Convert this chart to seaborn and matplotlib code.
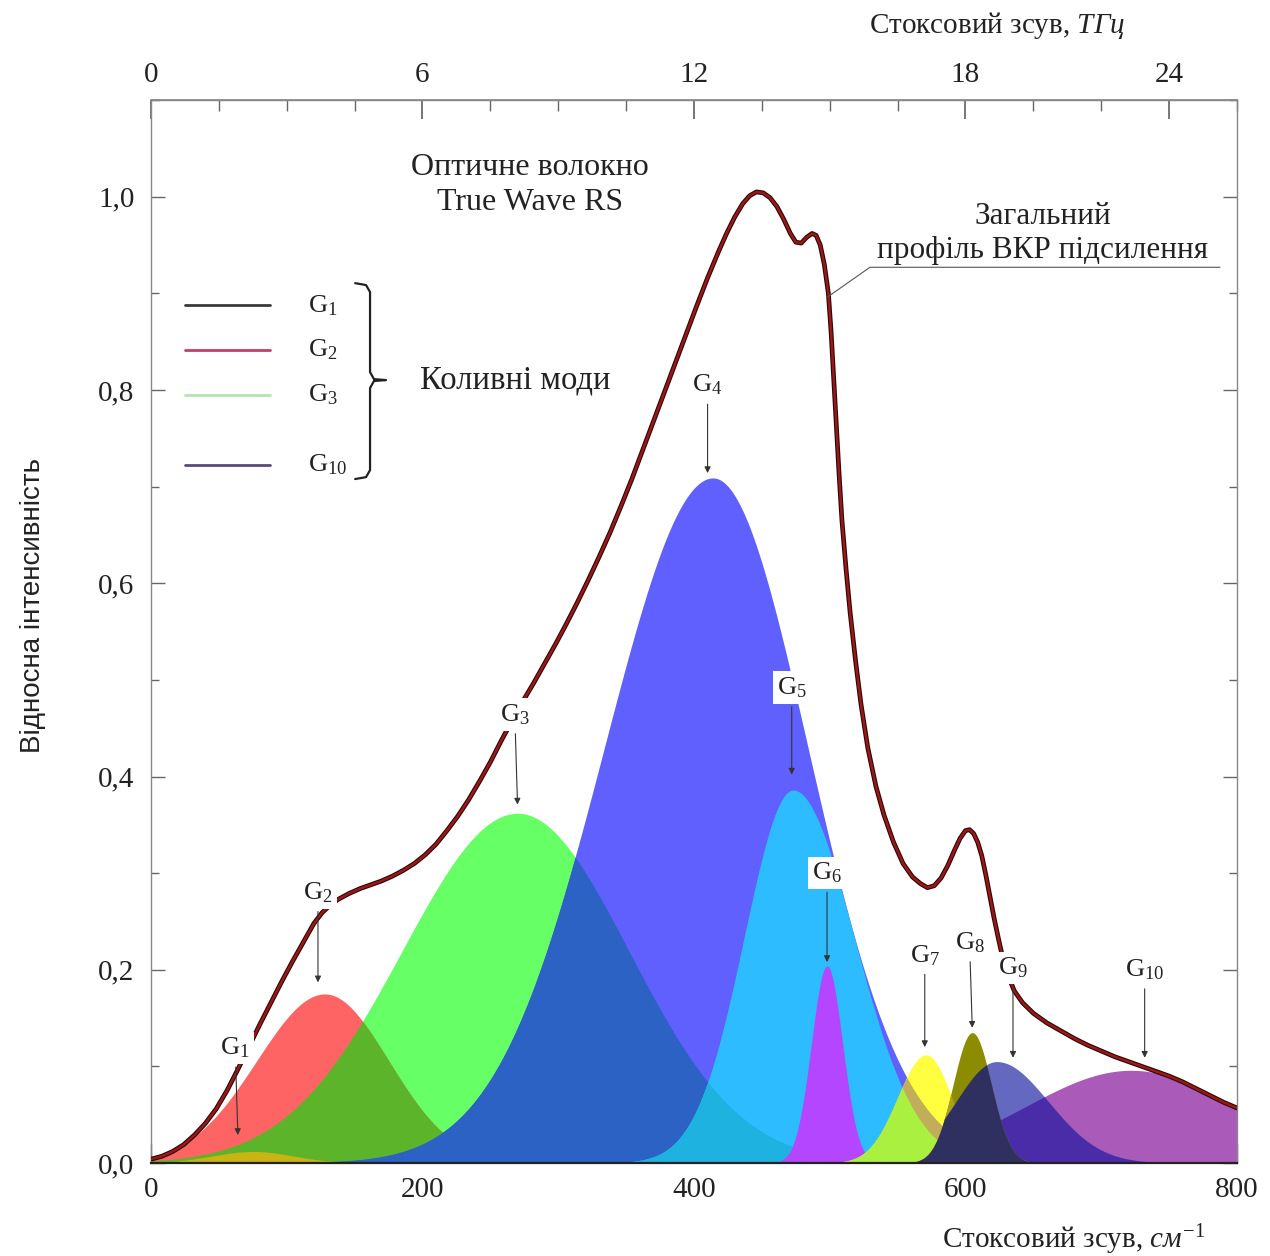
import numpy as np
import matplotlib
matplotlib.use('Agg')
import matplotlib.pyplot as plt
import matplotlib.patheffects as pe
from matplotlib.ticker import MultipleLocator, FuncFormatter, FixedLocator
import seaborn as sns

# Загальний профіль ВКР підсилення
profile_x = [0, 8, 16, 24, 32, 40, 48, 56, 64, 72, 80, 88, 96, 104, 112, 120, 126, 132, 138, 146,
             154, 162, 170, 178, 186, 194, 202, 210, 218, 226, 234, 242, 250, 258, 266, 274, 282,
             290, 298, 306, 314, 322, 330, 338, 346, 354, 362, 370, 378, 386, 394, 402, 410, 418,
             424, 430, 436, 441, 446, 451, 456, 461, 466, 471, 475, 479, 483, 487, 490, 493, 496,
             499, 501, 503, 505, 507, 509, 512, 515, 519, 523, 528, 534, 540, 547, 554, 561, 567,
             572, 577, 582, 587, 592, 596, 600, 603, 606, 609, 612, 615, 618, 621, 624, 627, 631,
             636, 642, 650, 660, 670, 680, 690, 700, 710, 720, 730, 740, 750, 760, 770, 780, 790, 800]
profile_y = [0.004, 0.007, 0.012, 0.019, 0.029, 0.041, 0.056, 0.075, 0.097, 0.120, 0.143, 0.165,
             0.187, 0.208, 0.228, 0.248, 0.259, 0.267, 0.273, 0.279, 0.284, 0.288, 0.292, 0.297,
             0.303, 0.310, 0.319, 0.330, 0.344, 0.359, 0.376, 0.395, 0.415, 0.437, 0.458, 0.478,
             0.497, 0.517, 0.537, 0.558, 0.580, 0.603, 0.627, 0.652, 0.679, 0.707, 0.737, 0.767,
             0.797, 0.827, 0.857, 0.887, 0.916, 0.943, 0.962, 0.979, 0.993, 1.001, 1.005, 1.004,
             0.999, 0.990, 0.977, 0.962, 0.953, 0.952, 0.958, 0.962, 0.960, 0.950, 0.930, 0.900,
             0.860, 0.810, 0.760, 0.710, 0.665, 0.615, 0.570, 0.520, 0.475, 0.430, 0.390, 0.360,
             0.332, 0.310, 0.296, 0.289, 0.285, 0.287, 0.295, 0.308, 0.324, 0.336, 0.344, 0.345,
             0.341, 0.332, 0.318, 0.298, 0.276, 0.254, 0.234, 0.215, 0.195, 0.178, 0.166, 0.155,
             0.145, 0.137, 0.129, 0.122, 0.116, 0.110, 0.105, 0.100, 0.095, 0.090, 0.084, 0.077,
             0.070, 0.063, 0.057]

# Коливні моди G1..G10: центр (см^-1), висота, ширина зліва та справа від центру
mode_names = ['G1', 'G2', 'G3', 'G4', 'G5', 'G6', 'G7', 'G8', 'G9', 'G10']
mode_centers = [75, 128, 270, 414, 473, 498, 571, 605, 623, 722]
mode_heights = [0.012, 0.175, 0.362, 0.709, 0.386, 0.204, 0.112, 0.135, 0.105, 0.096]
mode_widths_left = [30, 50, 85, 80, 36, 11.5, 21, 14, 30, 78]
mode_widths_right = [30, 47, 82, 70, 45, 11.5, 19, 14, 38, 76]
mode_colors = ['#c8b414', '#ff6464', '#66ff66', '#6060ff', '#2cbcff', '#b446ff',
               '#ffff40', '#8c8c00', '#6468c0', '#aa5ab8']

# порядок малювання: одна мода або перекриття двох мод
draw_order = [('G3',), ('G2',), ('G2', 'G3', '#5cb42a'), ('G4',), ('G3', 'G4', '#2b62c3'),
              ('G1',), ('G5',), ('G3', 'G5', '#1eb2e0'), ('G6',), ('G10',), ('G9',),
              ('G9', 'G10', '#4a2ca8'), ('G7',), ('G4', 'G7', '#c2ae5a'), ('G5', 'G7', '#aaf040'),
              ('G8',), ('G4', 'G8', '#b0a040'), ('G7', 'G8', '#a8a020'), ('G8', 'G9', '#303060')]

# підписи мод: позиція тексту та вершина стрілки
label_x = [62, 123, 268, 410, 472, 498, 570, 603, 635, 732]
label_y = [0.119, 0.280, 0.464, 0.805, 0.492, 0.300, 0.215, 0.228, 0.202, 0.200]
tip_x = [64, 123, 270, 410, 472, 498, 570, 605, 635, 732]
tip_y = [0.029, 0.187, 0.371, 0.714, 0.402, 0.208, 0.120, 0.140, 0.109, 0.109]

legend_names = ['G$_1$', 'G$_2$', 'G$_3$', 'G$_{10}$']
legend_colors = ['#3a3a3a', '#c0406a', '#b4e4b4', '#5a4a7a']
legend_rows = [0.807, 0.765, 0.7225, 0.657]

top_ticks = [0, 200, 400, 600, 750]
top_labels = ['0', '6', '12', '18', '24']

sns.set_theme(style='ticks')
plt.rcParams['font.family'] = ['Liberation Serif', 'DejaVu Serif']
plt.rcParams['mathtext.fontset'] = 'custom'
plt.rcParams['mathtext.rm'] = 'Liberation Serif'
plt.rcParams['mathtext.it'] = 'Liberation Serif:italic'

fig = plt.figure(figsize=(12.7, 12.56), dpi=100)
ax = fig.add_axes([0.1189, 0.0740, 0.8551, 0.8463])

x_grid = np.linspace(0, 800, 1601)
curves = {}
for name, c, h, wl, wr in zip(mode_names, mode_centers, mode_heights, mode_widths_left, mode_widths_right):
    w = np.where(x_grid < c, wl, wr)
    curves[name] = h * np.exp(-0.5 * ((x_grid - c) / w) ** 2)
colors = dict(zip(mode_names, mode_colors))

z = 1
for item in draw_order:
    if len(item) == 1:
        y = curves[item[0]]
        col = colors[item[0]]
    else:
        y = np.minimum(curves[item[0]], curves[item[1]])
        col = item[2]
    ax.fill_between(x_grid, 0, y, color=col, lw=0, zorder=z)
    z += 0.01

sns.lineplot(x=profile_x, y=profile_y, ax=ax, color='#9b1818', lw=1.8, sort=False,
             estimator=None, zorder=5)
ax.lines[-1].set_path_effects([pe.Stroke(linewidth=3.4, foreground='#2a0606'), pe.Normal()])

# підписи мод зі стрілками
for name, lx, ly, tx, ty in zip(mode_names, label_x, label_y, tip_x, tip_y):
    txt = 'G$_{' + name[1:] + '}$'
    ax.annotate(txt, xy=(tx, ty), xytext=(lx, ly), ha='center', va='center', fontsize=19,
                color='#222222', zorder=8,
                bbox=dict(boxstyle='square,pad=0.15', fc='white', ec='none'),
                arrowprops=dict(arrowstyle='-|>', color='#333333', lw=0.8, mutation_scale=9,
                                shrinkA=2, shrinkB=0))

ax.text(279, 1.012, 'Оптичне волокно\nTrue Wave RS', ha='center', va='center', fontsize=23,
        color='#222222', linespacing=1.25, zorder=8)
ax.text(657, 0.962, 'Загальний\nпрофіль ВКР підсилення', ha='center', va='center', fontsize=22.5,
        color='#222222', linespacing=1.25, zorder=8)
ax.plot([498.7, 529.6, 787.5], [0.8965, 0.927, 0.927], color='#555555', lw=0.8, zorder=8)

# легенда коливних мод
for name, col, row in zip(legend_names, legend_colors, legend_rows):
    ax.plot([0.031, 0.110], [row, row], transform=ax.transAxes, color=col, lw=2, zorder=8)
    ax.text(0.145, row, name, transform=ax.transAxes, ha='left', va='center', fontsize=19,
            color='#222222')
brace_x = [0.188, 0.198, 0.2017, 0.2017, 0.2053, 0.2164, 0.2053, 0.2017, 0.2017, 0.198, 0.188]
brace_y = [0.8278, 0.826, 0.8194, 0.7441, 0.7375, 0.7366, 0.7357, 0.7291, 0.6519, 0.6453, 0.6435]
ax.plot(brace_x, brace_y, transform=ax.transAxes, color='#222222', lw=1.6)
ax.text(0.2477, 0.7366, 'Коливні моди', transform=ax.transAxes, ha='left', va='center',
        fontsize=23.5, color='#222222')

# осі
ax.set_xlim(0, 800)
ax.set_ylim(0, 1.1)
ax.xaxis.set_major_locator(MultipleLocator(200))
ax.xaxis.set_minor_locator(MultipleLocator(50))
ax.yaxis.set_major_locator(FixedLocator([0, 0.2, 0.4, 0.6, 0.8, 1.0]))
ax.yaxis.set_minor_locator(MultipleLocator(0.1))
ax.yaxis.set_major_formatter(FuncFormatter(lambda v, p: f'{v:.1f}'.replace('.', ',')))
ax.tick_params(which='both', direction='in', colors='#666666', labelcolor='#222222',
               labelsize=21, right=True)
ax.tick_params(axis='x', which='major', length=14, width=1, pad=10)
ax.tick_params(axis='x', which='minor', length=8, width=1)
ax.tick_params(axis='y', which='major', length=10, width=1, pad=12)
ax.tick_params(axis='y', which='minor', length=6, width=1)
for s in ax.spines.values():
    s.set_color('#888888')
    s.set_linewidth(1)
ax.spines['bottom'].set_color('#222222')
ax.spines['bottom'].set_linewidth(1.6)
ax.grid(False)

secax = ax.secondary_xaxis('top')
secax.set_xticks(top_ticks, labels=top_labels)
secax.xaxis.set_minor_locator(MultipleLocator(50))
secax.tick_params(which='both', direction='in', colors='#666666', labelcolor='#222222',
                  labelsize=21, pad=9)
secax.tick_params(which='major', length=14)
secax.tick_params(which='minor', length=8)
secax.spines['top'].set_color('#888888')
ax.text(0.897, 1.0706, 'Стоксовий зсув, $\\mathit{ТГц}$', transform=ax.transAxes, ha='right',
        va='center', fontsize=21, color='#222222')

ax.set_xlabel('Стоксовий зсув, $\\mathit{см}^{-1}$', fontsize=21, color='#222222', loc='right')
ax.xaxis.set_label_coords(0.971, -0.056)
ax.set_ylabel('Відносна інтенсивність', fontsize=20, color='#222222',
              family=['Liberation Sans', 'DejaVu Sans'])
ax.yaxis.set_label_coords(-0.097, 0.525)

fig.savefig('out.png', dpi=100, facecolor='white')
